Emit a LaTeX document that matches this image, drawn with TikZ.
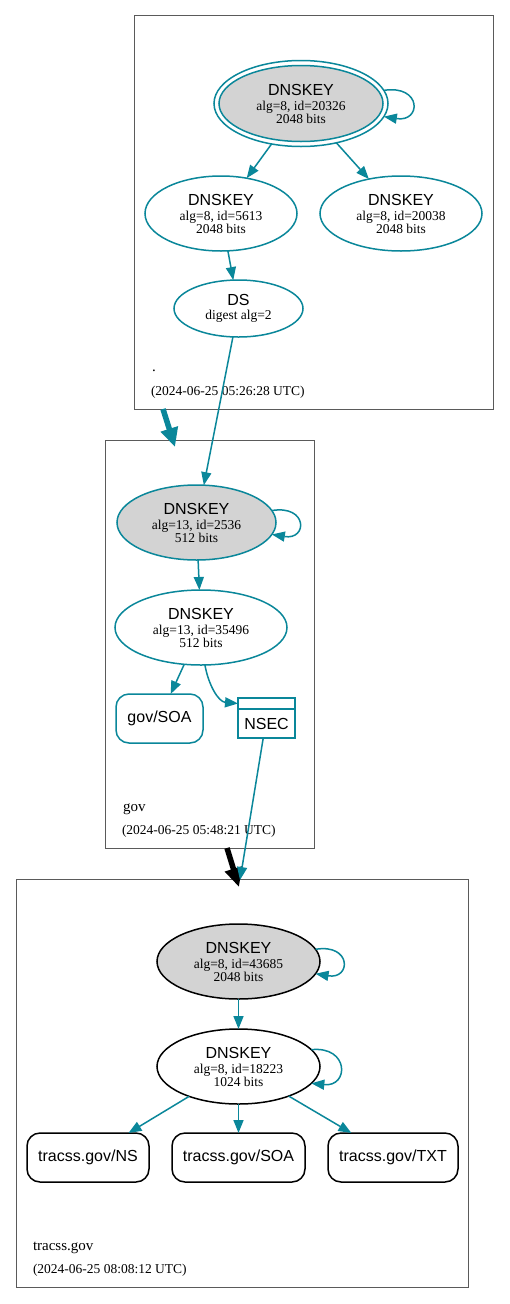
\documentclass[tikz,border=0pt]{standalone}
\usepackage{fontspec}
\setmainfont{Liberation Serif}
\setsansfont{Liberation Sans}
\usetikzlibrary{arrows.meta,shapes.geometric}
\definecolor{dteal}{HTML}{0A879A}
\definecolor{kgray}{HTML}{D3D3D3}
\definecolor{cgray}{HTML}{5A5A5A}
\newcommand\dkey[2]{{\sffamily\fontsize{16}{16}\selectfont DNSKEY}\\[2pt]#1\\#2}
\begin{document}
\begin{tikzpicture}[x=1pt,y=-1pt,
  every node/.style={inner sep=0pt, outer sep=0pt},
  keynode/.style={ellipse, draw=dteal, line width=1.5pt, align=center, font=\fontsize{13.5}{13}\selectfont},
  ksk/.style={keynode, fill=kgray},
  rrnode/.style={rectangle, rounded corners=13pt, draw=dteal, line width=1.5pt, font=\sffamily\fontsize{16}{16}\selectfont},
  cluster/.style={rectangle, draw=cgray, line width=0.8pt},
  clname/.style={anchor=base west, font=\fontsize{15}{15}\selectfont},
  cldate/.style={anchor=base west, font=\fontsize{13.5}{13.5}\selectfont},
  edge/.style={draw=dteal, line width=1.5pt, -{Triangle[length=13pt,width=10pt]}},
  deleg/.style={line width=5.5pt, -{Triangle[length=19pt,width=17pt]}},
]
\useasboundingbox (0,0) rectangle (509,1304);
\fill[white] (0,0) rectangle (509,1304);

% clusters
\node[cluster, minimum width=359, minimum height=394] (c1) at (313.5,212) {};
\node[cluster, minimum width=209, minimum height=408] (c2) at (209.5,644) {};
\node[cluster, minimum width=452, minimum height=408] (c3) at (242,1083) {};

\node[clname] (c1name) at (152,371) {.};
\node[cldate] (c1date) at (151,395) {(2024-06-25 05:26:28 UTC)};
\node[clname] (c2name) at (123,811) {gov};
\node[cldate] (c2date) at (122,834) {(2024-06-25 05:48:21 UTC)};
\node[clname] (c3name) at (33,1250) {tracss.gov};
\node[cldate] (c3date) at (33,1273) {(2024-06-25 08:08:12 UTC)};

% root zone
\node[ellipse, draw=dteal, line width=1.5pt, minimum width=174, minimum height=86] (k0) at (301,103.5) {};
\node[ksk, minimum width=164, minimum height=76] (k0i) at (301,103.5) {\dkey{alg=8, id=20326}{2048 bits}};
\node[keynode, minimum width=152, minimum height=75] (k1) at (221,213.5) {\dkey{alg=8, id=5613}{2048 bits}};
\node[keynode, minimum width=162, minimum height=75] (k2) at (401,213.5) {\dkey{alg=8, id=20038}{2048 bits}};
\node[keynode, minimum width=129, minimum height=57] (ds) at (238.5,308.5) {{\sffamily\fontsize{16}{16}\selectfont DS}\\[0.5pt]digest alg=2};

% gov zone
\node[ksk, minimum width=159, minimum height=75] (g0) at (196.5,522.5) {\dkey{alg=13, id=2536}{512 bits}};
\node[keynode, minimum width=172, minimum height=75] (g1) at (201,627.5) {\dkey{alg=13, id=35496}{512 bits}};
\node[rrnode, minimum width=87, minimum height=49] (gsoa) at (159.5,718.5) {gov/SOA};
\node[draw=dteal, line width=2.4pt, minimum width=57, minimum height=40] (nsec) at (266.5,718) {};
\draw[draw=dteal, line width=2.4pt] (nsec.west |- 0,709) -- (nsec.east |- 0,709);
\node[font=\sffamily\fontsize{16}{16}\selectfont] (nsecl) at (266.5,724) {NSEC};

% tracss.gov zone
\node[keynode, draw=black, fill=kgray, minimum width=163, minimum height=75] (t0) at (238.5,961.5) {\dkey{alg=8, id=43685}{2048 bits}};
\node[keynode, draw=black, minimum width=163, minimum height=75] (t1) at (238.5,1066.5) {\dkey{alg=8, id=18223}{1024 bits}};
\node[rrnode, draw=black, minimum width=122, minimum height=49] (tns) at (88,1157.5) {tracss.gov/NS};
\node[rrnode, draw=black, minimum width=133, minimum height=49] (tsoa) at (238.5,1157.5) {tracss.gov/SOA};
\node[rrnode, draw=black, minimum width=130, minimum height=49] (ttxt) at (393,1157.5) {tracss.gov/TXT};

% coordinates for inter-zone connectors
\coordinate (d1s) at (163,409);
\coordinate (d1e) at (175,447);
\coordinate (d2s) at (227,848);
\coordinate (d2e) at (239,887);
\coordinate (c3in) at (240,880);

% edges
\draw[edge] (k0) -- (k1);
\draw[edge] (k0.-48) -- (k2.133);
\draw[edge] (k0.9) .. controls +(38,-6) and +(38,6) .. (k0.-9);
\draw[edge] (k1) -- (ds);
\draw[edge] (ds) -- (g0);
\draw[deleg, dteal] (d1s) -- (d1e);

\draw[edge] (g0.9) .. controls +(36,-6) and +(36,6) .. (g0.-9);
\draw[edge] (g0) -- (g1);
\draw[edge] (g1) -- (gsoa);
\draw[edge] (g1.-84) to[out=-80,in=175] (nsec.153);
\draw[deleg, black] (d2s) -- (d2e);
\draw[edge] (nsec) -- (c3in);

\draw[edge] (t0.9) .. controls +(36,-6) and +(36,6) .. (t0.-9);
\draw[edge] (t0) -- (t1);
\draw[edge] (t1.13) .. controls +(38,-4) and +(38,4) .. (t1.-13);
\draw[edge] (t1) -- (tns);
\draw[edge] (t1) -- (tsoa);
\draw[edge] (t1) -- (ttxt);
\end{tikzpicture}
\end{document}
